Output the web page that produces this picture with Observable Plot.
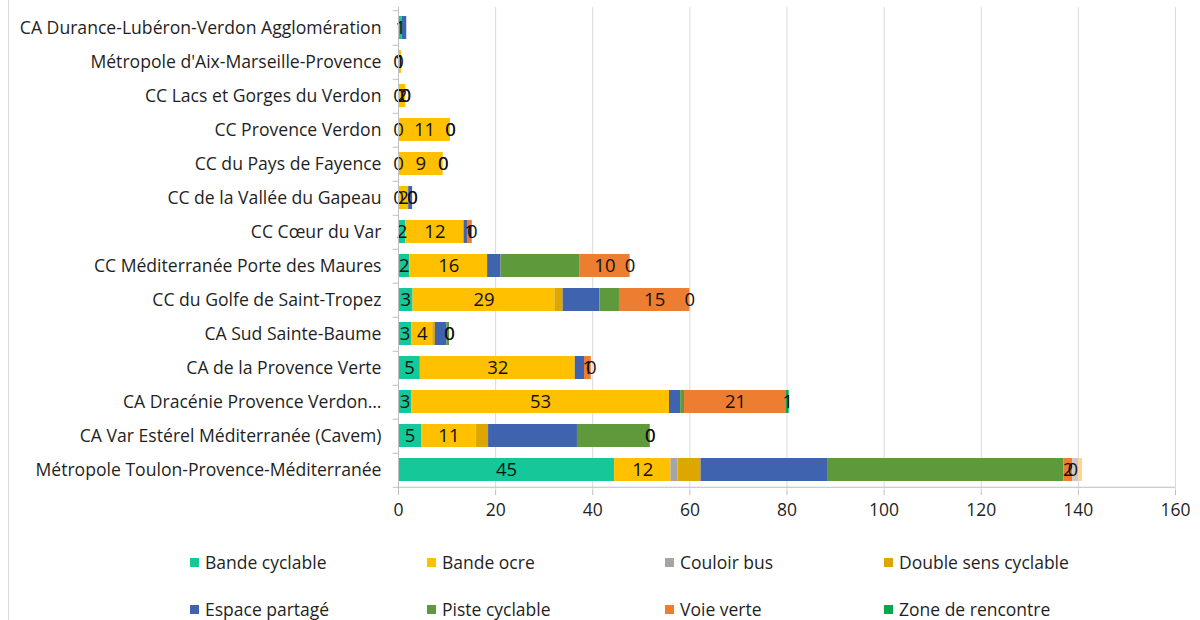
<!DOCTYPE html>
<html><head><meta charset="utf-8">
<script src="https://cdn.jsdelivr.net/npm/d3@7"></script>
<script src="https://cdn.jsdelivr.net/npm/@observablehq/plot@0.6"></script>
<style>
body{margin:0;background:#fff;font-family:"Open Sans",sans-serif;color:#1f1f1f;}
#wrap{position:relative;width:1200px;height:620px;overflow:hidden;}
#border{position:absolute;left:8px;top:0;bottom:0;border-left:1px solid #d9d9d9;}
#legend{position:absolute;left:190px;top:548px;display:grid;grid-template-columns:237px 238px 219px 240px;row-gap:19px;font-size:17.5px;}
.item{display:flex;align-items:center;height:28px;white-space:nowrap;}
.sw{width:9px;height:9px;margin-right:6px;flex:none;}
</style></head>
<body>
<div id="wrap"><div id="border"></div><div id="chart"></div><div id="legend"></div></div>
<script>
const categories = [
  "CA Durance-Lubéron-Verdon Agglomération",
  "Métropole d'Aix-Marseille-Provence",
  "CC Lacs et Gorges du Verdon",
  "CC Provence Verdon",
  "CC du Pays de Fayence",
  "CC de la Vallée du Gapeau",
  "CC Cœur du Var",
  "CC Méditerranée Porte des Maures",
  "CC du Golfe de Saint-Tropez",
  "CA Sud Sainte-Baume",
  "CA de la Provence Verte",
  "CA Dracénie Provence Verdon…",
  "CA Var Estérel Méditerranée (Cavem)",
  "Métropole Toulon-Provence-Méditerranée"
];
const seriesNames = ["Bande cyclable","Bande ocre","Couloir bus","Double sens cyclable","Espace partagé","Piste cyclable","Voie verte","Zone de rencontre","Autre (a)","Autre (b)"];
const legendSeries = seriesNames.slice(0, 8);
const seriesColors = ["#14C89A","#FFC000","#A5A5A5","#DDA600","#3F63AE","#5E9A3C","#ED7D31","#00A850","#C9C9C9","#FFD592"];
const labeledSeries = ["Bande cyclable","Bande ocre","Voie verte","Zone de rencontre"];

const bandeCyclable     = [0.8, 0,    0,   0,    0,   0,   1.5, 2.35, 3.0, 2.7,  4.5, 2.7,  4.75, 44.5];
const bandeOcre         = [null,0.6,  1.5, 10.7, 9.2, 2.1, 12.0,16.0, 29.2,4.35, 31.9,53.1, 11.25,11.6];
const couloirBus        = [0,   0,    0,   0,    0,   0,   0,   0,    0,   0,    0,   0,    0,    1.45];
const doubleSens        = [0,   0,    0,   0,    0,   0,   0,   0,    1.7, 0.55, 0,   0,    2.55, 4.75];
const espacePartage     = [0.9, 0,    0,   0,    0,   0.8, 0.7, 2.75, 7.6, 2.4,  1.9, 2.3,  18.3, 26.2];
const pisteCyclable     = [0,   0,    0,   0,    0,   0,   0,   16.2, 4.0, 0.5,  0,   0.8,  15.0, 48.5];
const voieVerte         = [null,null, 0,   0,    0,   0,   1.0, 10.4, 14.5,0,    1.4, 21.0, 0,    1.85];
const zoneRencontre     = [null,null, 0,   0,    0,   0,   0,   0,    0,   0,    0,   0.55, 0,    0];
const autreA            = [0,   0,    0,   0,    0,   0,   0,   0,    0,   0,    0,   0,    0,    1.2];
const autreB            = [0,   0,    0,   0,    0,   0,   0,   0,    0,   0,    0,   0,    0,    0.8];
const xTicks = [0,20,40,60,80,100,120,140,160];

const seriesValues = [bandeCyclable,bandeOcre,couloirBus,doubleSens,espacePartage,pisteCyclable,voieVerte,zoneRencontre,autreA,autreB];
const rows = [];
seriesNames.forEach((s, si) => {
  categories.forEach((c, ci) => {
    const v = seriesValues[si][ci];
    if (v !== null) rows.push({cat: c, series: s, value: v});
  });
});

const W = 1200, H = 530, mT = 7, mB = 40, mL = 398, mR = 25;
const step = (H - mT - mB) / categories.length;
const font = '"Open Sans", sans-serif';

const chart = Plot.plot({
  width: W, height: H,
  marginLeft: mL, marginRight: mR, marginTop: mT, marginBottom: mB,
  style: {fontFamily: font, fontSize: "17px", color: "#1f1f1f", background: "transparent"},
  x: {domain: [0, 160], label: null},
  y: {domain: categories, paddingInner: 0.33, paddingOuter: 0.165, label: null},
  color: {domain: seriesNames, range: seriesColors},
  marks: [
    Plot.gridX(xTicks.filter(d => d > 0), {stroke: "#d9d9d9", strokeOpacity: 1}),
    Plot.barX(rows, Plot.stackX({x: "value", y: "cat", z: "series", fill: "series", order: seriesNames})),
    Plot.text(rows, Plot.stackX({x: "value", y: "cat", z: "series", order: seriesNames,
      text: d => labeledSeries.includes(d.series) ? String(Math.round(d.value)) : "",
      fill: "#111", fontSize: 18.5})),
    Plot.ruleX([0], {stroke: "#bfbfbf"}),
    Plot.ruleY([categories[categories.length - 1]], {dy: step / 2, x1: 0, x2: 160, stroke: "#bfbfbf"}),
    Plot.ruleY(categories, {dy: step / 2, x1: -1.1, x2: 0, stroke: "#bfbfbf", clip: false}),
    Plot.ruleY([categories[0]], {dy: -step / 2, x1: -1.1, x2: 0, stroke: "#bfbfbf", clip: false}),
    Plot.axisX(xTicks, {tickSize: 5, tickPadding: 8, stroke: "#bfbfbf", fill: "#1f1f1f", fontSize: 17.5}),
    Plot.axisY({tickSize: 0, tickPadding: 17, fill: "#1f1f1f", fontSize: 17.6})
  ]
});
document.getElementById("chart").appendChild(chart);

const legend = document.getElementById("legend");
legendSeries.forEach(s => {
  const it = document.createElement("div");
  it.className = "item";
  const sw = document.createElement("span");
  sw.className = "sw";
  sw.style.background = seriesColors[seriesNames.indexOf(s)];
  const t = document.createElement("span");
  t.textContent = s;
  it.appendChild(sw); it.appendChild(t);
  legend.appendChild(it);
});
</script>
</body></html>
